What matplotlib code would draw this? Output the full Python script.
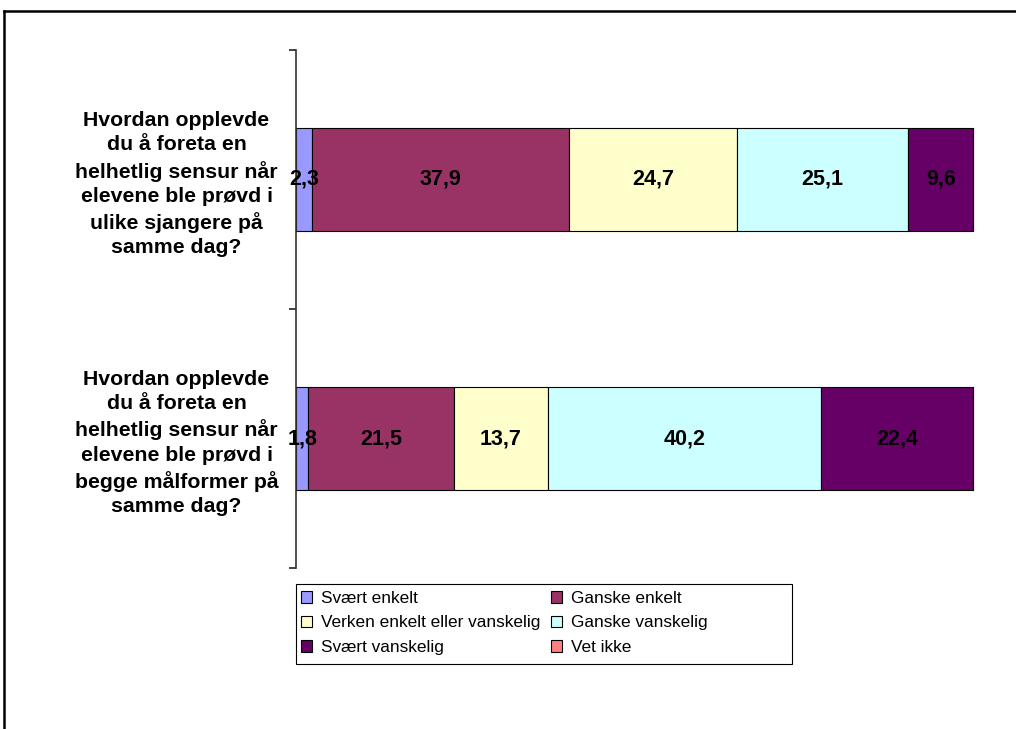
import matplotlib
matplotlib.use("Agg")
import matplotlib.pyplot as plt
from matplotlib.lines import Line2D
from matplotlib.patches import Rectangle
import numpy as np

categories = [
    "Hvordan opplevde\ndu å foreta en\nhelhetlig sensur når\nelevene ble prøvd i\nulike sjangere på\nsamme dag?",
    "Hvordan opplevde\ndu å foreta en\nhelhetlig sensur når\nelevene ble prøvd i\nbegge målformer på\nsamme dag?",
]
series_names = ["Svært enkelt", "Ganske enkelt", "Verken enkelt eller vanskelig",
                "Ganske vanskelig", "Svært vanskelig", "Vet ikke"]
svaert_enkelt = [2.3, 1.8]
ganske_enkelt = [37.9, 21.5]
verken = [24.7, 13.7]
ganske_vanskelig = [25.1, 40.2]
svaert_vanskelig = [9.6, 22.4]
vet_ikke = [0.0, 0.0]
values = [svaert_enkelt, ganske_enkelt, verken, ganske_vanskelig, svaert_vanskelig, vet_ikke]
colors = ["#9999FF", "#993366", "#FFFFCC", "#CCFFFF", "#660066", "#FF8080"]

plt.rcParams['font.family'] = ['Liberation Sans', 'DejaVu Sans']

W, H = 1016, 729
fig = plt.figure(figsize=(W/100, H/100), dpi=100)
ax = fig.add_axes([296/W, 1-568/H, (976-296)/W, (568-50)/H])

y = np.arange(len(categories))
left = np.zeros(len(categories))
handles = []
for name, vals, c in zip(series_names, values, colors):
    vals = np.array(vals)
    bars = ax.barh(y, vals, left=left, height=0.4, color=c, edgecolor="black",
                   linewidth=0.8, label=name)
    handles.append(bars)
    for yi, (l, v) in enumerate(zip(left, vals)):
        if v > 0:
            ax.text(l + v/2, yi, f"{v:.1f}".replace(".", ","), ha="center", va="center",
                    fontsize=15.5, fontweight="bold", color="black")
    left = left + vals

ax.set_xlim(0, 100)
ax.set_ylim(1.5, -0.5)
for s in ["top", "right", "bottom"]:
    ax.spines[s].set_visible(False)
ax.spines["left"].set_color("#333333")
ax.spines["left"].set_linewidth(1.2)
ax.set_xticks([])
ax.set_yticks([-0.5, 0.5, 1.5])
ax.set_yticklabels([])
ax.tick_params(axis="y", which="major", length=5, width=1.2, color="#222222")
ax.set_yticks(y, minor=True)
ax.set_yticklabels(categories, minor=True, fontsize=15.3, fontweight="bold",
                   ha="center", linespacing=1.36)
ax.tick_params(axis="y", which="minor", length=0, pad=86)

order = [0, 2, 4, 1, 3, 5]
leg = fig.legend([handles[i] for i in order], [series_names[i] for i in order],
                 ncol=2, loc="upper left", bbox_to_anchor=(301/W, 1-591/H),
                 fontsize=12.4, frameon=False,
                 handlelength=0.65, handleheight=0.65, handletextpad=0.5,
                 columnspacing=0.62, labelspacing=0.55, borderpad=0.0, borderaxespad=0)

fig.add_artist(Rectangle((296/W, 1-664/H), (792-296)/W, (664-584)/H,
                         transform=fig.transFigure, facecolor="none",
                         edgecolor="black", linewidth=0.8))

fig.add_artist(Line2D([4/W, 4/W], [0, 1-11/H], transform=fig.transFigure,
                      color="black", linewidth=1.8))
fig.add_artist(Line2D([4/W, 1], [1-11/H, 1-11/H], transform=fig.transFigure,
                      color="black", linewidth=1.8))

fig.savefig("out.png", dpi=100, facecolor="white")
